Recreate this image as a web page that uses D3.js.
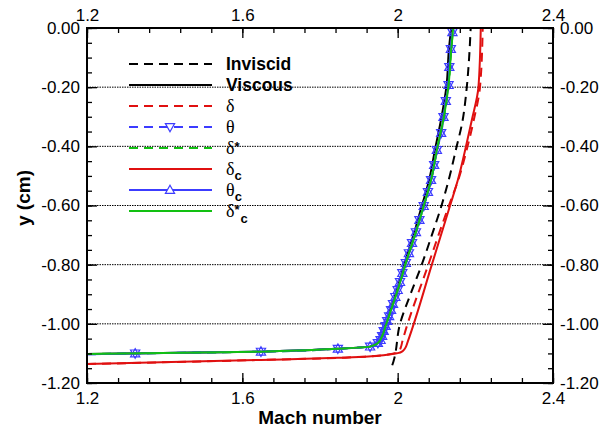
<!DOCTYPE html>
<html>
<head>
<meta charset="utf-8">
<script src="https://cdn.jsdelivr.net/npm/d3@7"></script>
<style>
  body { margin: 0; background: #fff; }
  svg { display: block; }
  .tick text { font-family: Arial, "Liberation Sans", sans-serif; font-size: 17px; fill: #000; }
</style>
</head>
<body>
<div id="chart"></div>
<script>
// tick labels
var xTicks = [1.2, 1.6, 2.0, 2.4];
var yTicks = [0, -0.2, -0.4, -0.6, -0.8, -1.0, -1.2];
var yGrid = [-0.2, -0.4, -0.6, -0.8, -1.0];

// series, [mach, y (cm)]
var inviscid = [[1.986, -1.14], [1.989, -1.128], [2.006, -1.0], [2.033, -0.9], [2.062, -0.8],
    [2.088, -0.7], [2.113, -0.6], [2.134, -0.5], [2.152, -0.4], [2.165, -0.328],
    [2.178, -0.2], [2.184, -0.1], [2.188, 0]];

var viscous = [[1.2, -1.102], [1.646, -1.094], [1.845, -1.084], [1.928, -1.077], [1.948, -1.065],
    [1.959, -1.041], [1.968, -1.007], [1.981, -0.953], [1.998, -0.886], [2.018, -0.794],
    [2.043, -0.690], [2.062, -0.602], [2.081, -0.514], [2.096, -0.412], [2.113, -0.301],
    [2.126, -0.193], [2.132, -0.071], [2.138, 0]];

var delta = [[1.2, -1.136], [1.648, -1.122], [1.846, -1.115], [1.916, -1.111], [1.990, -1.100],
    [2.003, -1.093], [2.008, -1.080], [2.012, -1.060], [2.079, -0.8], [2.132, -0.6],
    [2.156, -0.514], [2.180, -0.4], [2.196, -0.311], [2.212, -0.2], [2.219, 0]];

var deltaC = [[1.2, -1.136], [1.648, -1.122], [1.846, -1.115], [1.916, -1.111], [2.000, -1.099],
    [2.013, -1.092], [2.021, -1.078], [2.026, -1.060], [2.088, -0.8], [2.135, -0.6],
    [2.155, -0.514], [2.176, -0.4], [2.191, -0.311], [2.208, -0.2], [2.214, 0]];

// theta and theta_c lie on top of each other
var theta = [[1.2, -1.103], [1.324, -1.100], [1.648, -1.094], [1.846, -1.084], [1.929, -1.077],
    [1.949, -1.065], [1.956, -1.055], [1.960, -1.041], [1.964, -1.024], [1.969, -1.007],
    [1.973, -0.990], [1.978, -0.974], [1.983, -0.953], [1.988, -0.933], [1.994, -0.909],
    [2.000, -0.886], [2.006, -0.859], [2.012, -0.828], [2.021, -0.794], [2.029, -0.761],
    [2.037, -0.727], [2.047, -0.690], [2.056, -0.649], [2.067, -0.602], [2.078, -0.554],
    [2.086, -0.514], [2.094, -0.463], [2.101, -0.412], [2.112, -0.355], [2.118, -0.301],
    [2.124, -0.247], [2.131, -0.193], [2.133, -0.132], [2.137, -0.071], [2.141, -0.014]];

var deltaStarC = [[1.2, -1.102], [1.648, -1.094], [1.846, -1.084], [1.929, -1.077], [1.949, -1.065],
    [1.960, -1.041], [1.969, -1.007], [1.983, -0.953], [2.000, -0.886], [2.021, -0.794],
    [2.047, -0.690], [2.067, -0.602], [2.086, -0.514], [2.101, -0.412], [2.119, -0.301],
    [2.131, -0.193], [2.138, -0.071], [2.143, 0]];

var red = "#e01010", blue = "#3c3cff", green = "#12c012";

var series = [
    { name: "Inviscid", data: inviscid, color: "#000", dash: "9,6", marker: null },
    { name: "Viscous", data: viscous, color: "#000", dash: null, marker: null },
    { name: "delta", data: delta, color: red, dash: "9,6", marker: null },
    { name: "theta", data: theta, color: blue, dash: "9,6", marker: "down" },
    { name: "deltaStar", data: deltaStarC, color: green, dash: "9,6", marker: null },
    { name: "deltaC", data: deltaC, color: red, dash: null, marker: null },
    { name: "thetaC", data: theta, color: blue, dash: null, marker: "up" },
    { name: "deltaStarC", data: deltaStarC, color: green, dash: null, marker: null }
];

var width = 611, height = 430;
var margin = { left: 87, right: 58, top: 28, bottom: 47 };

var svg = d3.select("#chart").append("svg")
    .attr("width", width)
    .attr("height", height);

var xScale = d3.scaleLinear()
    .domain([1.2, 2.4])
    .range([margin.left, width - margin.right]);

var yScale = d3.scaleLinear()
    .domain([-1.2, 0])
    .range([height - margin.bottom, margin.top]);

var x0 = xScale.range()[0], x1 = xScale.range()[1];
var yB = yScale.range()[0], yT = yScale.range()[1];

// dotted grid lines
svg.selectAll(".grid")
    .data(yGrid).enter().append("line")
    .attr("x1", x0).attr("x2", x1)
    .attr("y1", function(d) { return yScale(d); })
    .attr("y2", function(d) { return yScale(d); })
    .attr("stroke", "#000")
    .attr("stroke-width", 1)
    .attr("stroke-dasharray", "1.5,1");

// clip
svg.append("clipPath").attr("id", "clip")
    .append("rect")
    .attr("x", x0).attr("y", yT)
    .attr("width", x1 - x0).attr("height", yB - yT);

var line = d3.line()
    .x(function(d) { return xScale(d[0]); })
    .y(function(d) { return yScale(d[1]); })
    .curve(d3.curveMonotoneY);

var plot = svg.append("g").attr("clip-path", "url(#clip)");

var upTri = "M0,-4.8L4.6,3.4L-4.6,3.4Z";
var downTri = "M0,4.8L4.6,-3.4L-4.6,-3.4Z";

series.forEach(function(s) {
    plot.append("path")
        .datum(s.data)
        .attr("fill", "none")
        .attr("stroke", s.color)
        .attr("stroke-width", 2)
        .attr("stroke-dasharray", s.dash)
        .attr("d", line);
    if (s.marker) {
        plot.selectAll(".m-" + s.name)
            .data(s.data.filter(function(d) { return d[0] > 1.25; }))
            .enter().append("path")
            .attr("class", "m-" + s.name)
            .attr("transform", function(d) { return "translate(" + [xScale(d[0]), yScale(d[1])] + ")"; })
            .attr("d", s.marker == "up" ? upTri : downTri)
            .attr("fill", "none")
            .attr("stroke", s.color)
            .attr("stroke-width", 1.2);
    }
});

// axes, ticks point inward
var xMinor = d3.range(1.2, 2.4001, 0.08);
var yMinor = d3.range(-1.2, 0.0001, 0.05);
var fmtX = function(d) { return String(+d.toFixed(1)); };
var fmtY = function(d) { return d.toFixed(2); };

function addAxis(axis, tr) {
    var g = svg.append("g").attr("transform", tr).call(axis);
    g.select(".domain").remove();
    g.selectAll(".tick line").attr("stroke", "#000").attr("stroke-width", 1.3);
    return g;
}

addAxis(d3.axisBottom(xScale).tickValues(xMinor).tickSize(-5).tickFormat(""), "translate(0," + yB + ")");
addAxis(d3.axisTop(xScale).tickValues(xMinor).tickSize(-5).tickFormat(""), "translate(0," + yT + ")");
addAxis(d3.axisLeft(yScale).tickValues(yMinor).tickSize(-5).tickFormat(""), "translate(" + x0 + ",0)");
addAxis(d3.axisRight(yScale).tickValues(yMinor).tickSize(-5).tickFormat(""), "translate(" + x1 + ",0)");

addAxis(d3.axisBottom(xScale).tickValues(xTicks).tickSize(-10).tickPadding(9).tickFormat(fmtX), "translate(0," + yB + ")");
addAxis(d3.axisTop(xScale).tickValues(xTicks).tickSize(-10).tickPadding(7).tickFormat(fmtX), "translate(0," + yT + ")");
addAxis(d3.axisLeft(yScale).tickValues(yTicks).tickSize(-10).tickPadding(7).tickFormat(fmtY), "translate(" + x0 + ",0)");
addAxis(d3.axisRight(yScale).tickValues(yTicks).tickSize(-10).tickPadding(7).tickFormat(fmtY), "translate(" + x1 + ",0)");

// frame
svg.append("rect")
    .attr("x", x0).attr("y", yT)
    .attr("width", x1 - x0).attr("height", yB - yT)
    .attr("fill", "none")
    .attr("stroke", "#000")
    .attr("stroke-width", 2);

// axis titles
svg.append("text")
    .attr("x", (x0 + x1) / 2).attr("y", 424)
    .attr("text-anchor", "middle")
    .style("font-family", "Arial, 'Liberation Sans', sans-serif")
    .style("font-weight", "bold").style("font-size", "19px")
    .text("Mach number");

svg.append("text")
    .attr("transform", "translate(" + [30, 198] + ") rotate(-90)")
    .attr("text-anchor", "middle")
    .style("font-family", "Arial, 'Liberation Sans', sans-serif")
    .style("font-weight", "bold").style("font-size", "19px")
    .text("y (cm)");

// legend
var legendY = d3.range(0, 8).map(function(i) { return 64 + i * 21; });
var legendLabels = [
    [["Inviscid", "b"]],
    [["Viscous", "b"]],
    [["\u03b4", "g"]],
    [["\u03b8", "g"]],
    [["\u03b4", "g"], ["*", "sup"]],
    [["\u03b4", "g"], ["c", "sub"]],
    [["\u03b8", "g"], ["c", "sub"]],
    [["\u03b4", "g"], ["*", "sup"], ["c", "subs"]]
];

var legend = svg.append("g");
series.forEach(function(s, i) {
    var ly = legendY[i];
    legend.append("line")
        .attr("x1", 129).attr("x2", 212)
        .attr("y1", ly).attr("y2", ly)
        .attr("stroke", s.color)
        .attr("stroke-width", 2)
        .attr("stroke-dasharray", s.dash);
    if (s.marker) {
        legend.append("path")
            .attr("transform", "translate(" + [170, ly] + ")")
            .attr("d", s.marker == "up" ? upTri : downTri)
            .attr("fill", "#fff")
            .attr("stroke", s.color)
            .attr("stroke-width", 1.2);
    }
    var t = legend.append("text").attr("x", 226).attr("y", ly + 6);
    legendLabels[i].forEach(function(p) {
        var sp = t.append("tspan").text(p[0]);
        if (p[1] == "b") {
            sp.style("font-family", "Arial, 'Liberation Sans', sans-serif")
              .style("font-weight", "bold").style("font-size", "17.5px");
        } else if (p[1] == "g") {
            sp.style("font-family", "'Times New Roman', 'Liberation Serif', serif")
              .style("font-size", "18px");
        } else {
            sp.style("font-family", "Arial, 'Liberation Sans', sans-serif")
              .style("font-weight", "bold").style("font-size", "13px");
            if (p[1] == "sup") sp.attr("dy", -3);
            if (p[1] == "sub") sp.attr("dy", 5);
            if (p[1] == "subs") sp.attr("dx", 1).attr("dy", 9);
        }
    });
});
</script>
</body>
</html>
